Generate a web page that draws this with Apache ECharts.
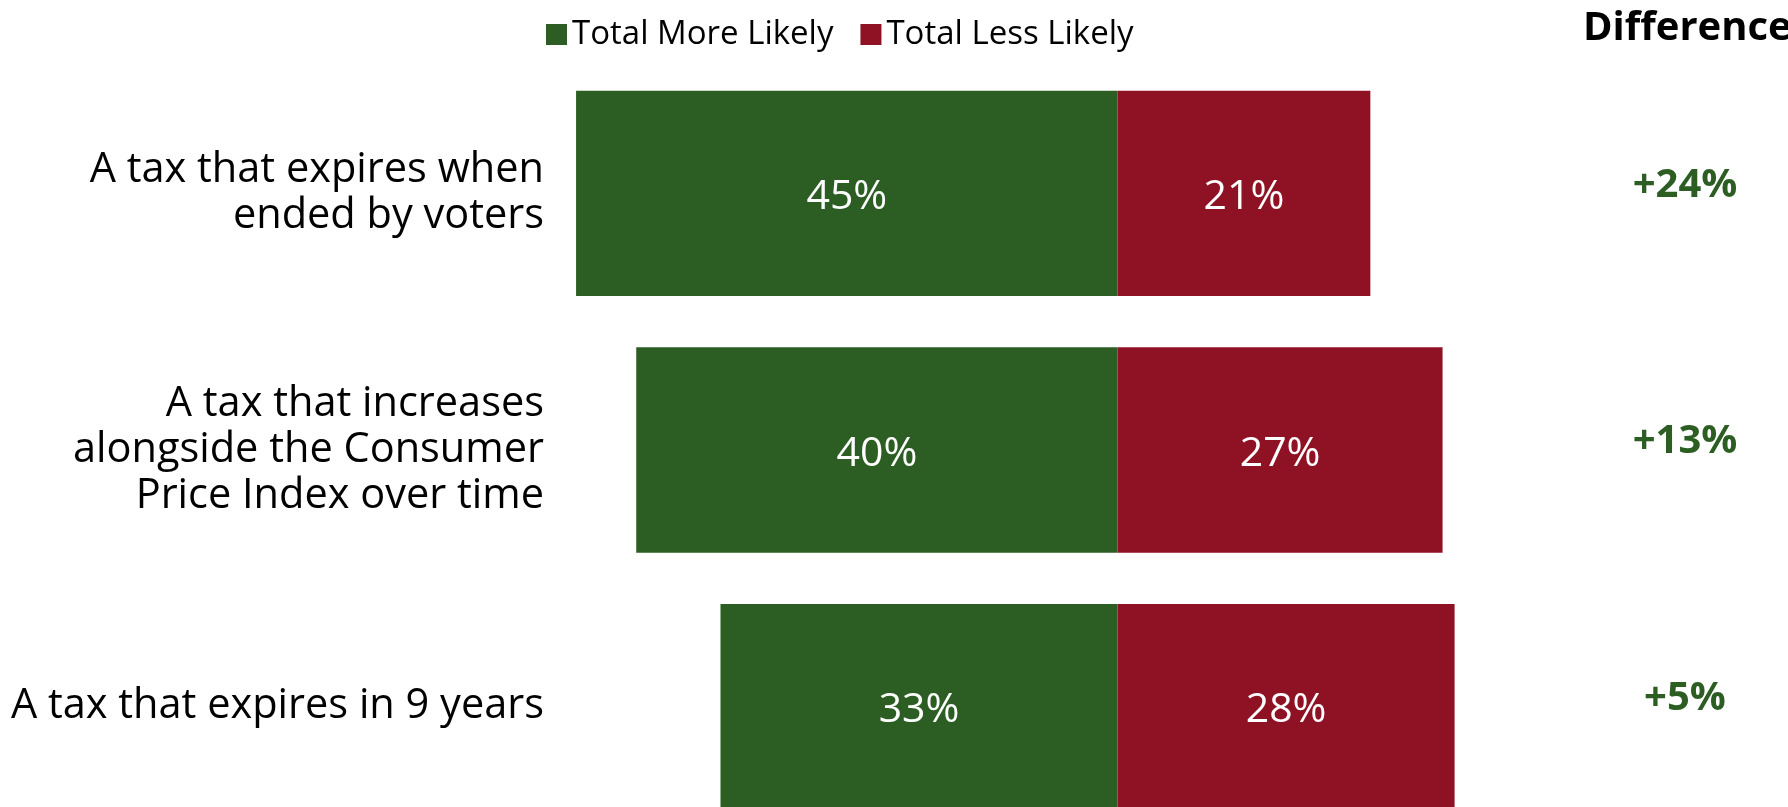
<!DOCTYPE html>
<html>
<head>
<meta charset="utf-8">
<title>Tax options</title>
<script src="https://cdn.jsdelivr.net/npm/echarts@6/dist/echarts.min.js"></script>
<style>
  html, body { margin: 0; padding: 0; background: #fff; }
  #chart { width: 1788px; height: 807px; }
</style>
</head>
<body>
<div id="chart"></div>
<script>
// 数据
const categories = [
  'A tax that expires when\nended by voters',
  'A tax that increases\nalongside the Consumer\nPrice Index over time',
  'A tax that expires in 9 years'
]
const moreLikely = [45, 40, 33]
const lessLikely = [21, 27, 28]
const diffLabels = ['+24%', '+13%', '+5%']

const GREEN = '#2C5E23'
const RED = '#8F1224'
const FONT = '"Open Sans", "Noto Sans", sans-serif'

const chart = echarts.init(document.getElementById('chart'))

chart.setOption({
  animation: false,
  textStyle: { fontFamily: FONT },
  title: {
    text: 'Difference',
    left: 1578,
    top: 4,
    textStyle: { fontFamily: FONT, fontSize: 40, fontWeight: 'bold', color: '#000' }
  },
  legend: {
    left: 541,
    top: 13,
    itemWidth: 21,
    itemHeight: 21,
    itemGap: 27,
    icon: 'rect',
    textStyle: { fontFamily: FONT, fontSize: 33, color: '#000' },
    data: ['Total More Likely', 'Total Less Likely']
  },
  grid: {
    left: 552,
    right: 189,
    top: 65,
    height: 770,
    outerBoundsMode: 'none'
  },
  xAxis: {
    type: 'value',
    min: -47,
    max: 40,
    show: false
  },
  yAxis: [
    {
      type: 'category',
      inverse: true,
      data: categories,
      axisLine: { show: false },
      axisTick: { show: false },
      axisLabel: {
        margin: 8,
        fontFamily: FONT,
        fontSize: 41.5,
        lineHeight: 46,
        color: '#000',
        align: 'right'
      }
    },
    {
      // 差值列
      type: 'category',
      inverse: true,
      position: 'right',
      data: diffLabels,
      axisLine: { show: false },
      axisTick: { show: false },
      axisLabel: {
        margin: 86,
        align: 'center',
        formatter: v => '{d|' + v + '}',
        rich: {
          d: {
            fontFamily: FONT,
            fontSize: 40,
            fontWeight: 'bold',
            color: GREEN,
            padding: [0, 0, 16, 0]
          }
        }
      }
    }
  ],
  series: [
    {
      name: 'Total More Likely',
      type: 'bar',
      stack: 'total',
      barCategoryGap: '20%',
      itemStyle: { color: GREEN },
      label: {
        show: true,
        position: 'inside',
        color: '#fff',
        fontFamily: FONT,
        fontSize: 41,
        offset: [0, 4],
        formatter: p => Math.abs(p.value) + '%'
      },
      data: moreLikely.map(v => -v)
    },
    {
      name: 'Total Less Likely',
      type: 'bar',
      stack: 'total',
      barCategoryGap: '20%',
      itemStyle: { color: RED },
      label: {
        show: true,
        position: 'inside',
        color: '#fff',
        fontFamily: FONT,
        fontSize: 41,
        offset: [0, 4],
        formatter: '{c}%'
      },
      data: lessLikely
    }
  ]
})
</script>
</body>
</html>
